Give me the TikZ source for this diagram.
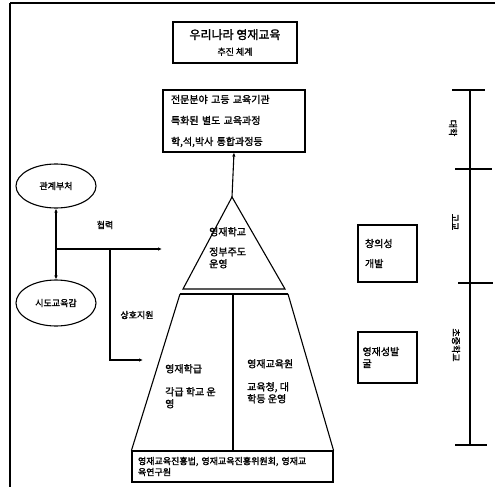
\documentclass[tikz,border=0pt]{standalone}
\usepackage{fontspec}
\setmainfont{Noto Sans CJK KR}[BoldFont={Noto Sans CJK KR},BoldFeatures={FakeBold=1.6}]
\usetikzlibrary{shapes.geometric,arrows.meta}

\begin{document}
\begin{tikzpicture}[x=1pt,y=1pt,yscale=-1,xscale=1,
  every node/.style={font=\bfseries\fontsize{9}{11}\selectfont},
  box/.style={draw,line width=1.1pt,inner sep=0pt},
  oval/.style={draw,ellipse,line width=1.1pt,minimum width=80,minimum height=44,inner sep=0pt},
  arr/.style={-{Latex[length=4pt,width=3.5pt]},line width=1.1pt},
  txt/.style={anchor=north west,align=left,inner sep=0pt,font=\bfseries\fontsize{10}{12}\selectfont}]
\useasboundingbox (0,0) rectangle (495,487);
\draw [line width=1.1pt] (10,3) -- (495,3);
\draw [line width=1.1pt] (10,3) -- (10,487);
% title and top box
\node [box,minimum width=124,minimum height=41,align=center] (title) at (235,42.5) {{\fontsize{12}{14}\selectfont 우리나라 영재교육}\\[5pt]추진 체계};
\node [box,minimum width=142,minimum height=62,text width=126,align=left,font=\bfseries\fontsize{10}{21}\selectfont] (inst) at (234,121) {전문분야 고등 교육기관\\특화된 별도 교육과정\\학,석,박사 통합과정등};
% pyramid
\coordinate (apex) at (232,197);
\coordinate (tl) at (183,289);
\coordinate (tr) at (285,289);
\draw [line width=1.1pt] (apex) -- (tr) -- (tl) -- cycle;
\draw [arr] (apex) -- (inst.south);
\node [txt] (school) at (209,227) {영재학교\\[8pt]정부주도\\운영};
\node [box,minimum width=201,minimum height=31,text width=189,align=left] (law) at (232.5,466.5) {영재교육진흥법, 영재교육진흥위원회, 영재교\\육연구원};
\coordinate (ml) at (180,294);
\coordinate (mr) at (288,294);
\coordinate (mm) at (233,294);
\draw [line width=1.1pt] (ml) -- (mr);
\draw [line width=1.1pt] (ml) -- (law.north west);
\draw [line width=1.1pt] (mr) -- (law.north east);
\draw [line width=1.1pt] (mm) -- (mm |- law.north);
\node [txt] (class) at (165,364) {영재학급\\[11pt]각급 학교 운\\영};
\node [txt] (centre) at (247,359) {영재교육원\\[11pt]교육청, 대\\학등 운영};
% left side
\node [oval] (gov) at (56,186) {관계부처};
\node [oval,minimum height=46] (edu) at (56,303) {시도교육감};
\draw [line width=1.1pt,{Latex[length=4pt,width=3.5pt]}-{Latex[length=4pt,width=3.5pt]}] (gov) -- (edu);
\coordinate (j1) at (56,249);
\coordinate (j2) at (110,249);
\coordinate (e1) at (162,249);
\coordinate (e2) at (143,360);
\draw [line width=1.1pt] (j1) -- (j2);
\draw [arr] (j2) -- (e1);
\draw [arr] (j2) |- (e2);
\node (coop) at (105,225) {협력};
\node (support) at (137,315) {상호지원};
% right side
\node [box,minimum width=59,minimum height=57,text width=45,align=left,font=\bfseries\fontsize{10}{20}\selectfont] (creat) at (387.5,253.5) {창의성\\개발};
\node [box,minimum width=59,minimum height=51,text width=50,align=left,font=\bfseries\fontsize{10}{12}\selectfont] (gifted) at (387.5,357.5) {영재성발\\굴};
% scale
\coordinate (s0) at (470,90);
\coordinate (s1) at (470,169);
\coordinate (s2) at (470,283);
\coordinate (s3) at (470,445);
\draw [line width=1.3pt] (s0) -- (s3);
\draw [line width=1.1pt] ([xshift=-18]s0) -- ([xshift=15]s0);
\draw [line width=1.1pt] ([xshift=-15]s1) -- ([xshift=22]s1);
\draw [line width=1.7pt] ([xshift=-12]s2) -- ([xshift=23]s2);
\draw [line width=1.1pt] ([xshift=-15]s3) -- ([xshift=17]s3);
\node [rotate=-90] (univ) at (453,128) {대학};
\node [rotate=-90] (high) at (455,222) {고교};
\node [rotate=-90] (elem) at (456,345) {초중학교};
\end{tikzpicture}
\end{document}
